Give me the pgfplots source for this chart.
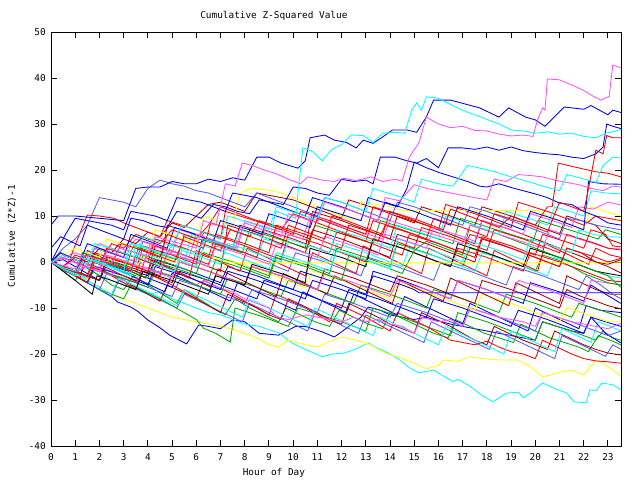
\documentclass[border=0pt]{standalone}
\usepackage{pgfplots}
\pgfplotsset{compat=1.18}
\usepackage{fontspec}
\setmainfont{DejaVu Sans Mono}
\definecolor{gpred}{RGB}{255,0,0}
\definecolor{gpgreen}{RGB}{0,170,0}
\definecolor{gpblue}{RGB}{0,0,235}
\definecolor{gplblue}{RGB}{90,90,255}
\definecolor{gpmag}{RGB}{255,80,255}
\definecolor{gpcyan}{RGB}{0,255,255}
\definecolor{gpdred}{RGB}{170,0,0}
\definecolor{gpyel}{RGB}{255,255,0}
\begin{document}
\begin{tikzpicture}
\useasboundingbox (-51bp,-34bp) rectangle (589bp,446bp);
\begin{axis}[
  at={(0,0)}, anchor=south west,
  scale only axis, width=570bp, height=414bp,
  xmin=0, xmax=23.54, ymin=-40, ymax=50,
  xtick={0,1,...,23}, ytick={-40,-30,...,50},
  tick align=inside, major tick length=6bp,
  axis line style={line width=1bp},
  every tick/.style={black, line width=1bp},
  font=\fontsize{9.4bp}{11bp}\selectfont,
  /pgf/number format/assume math mode=true,
  xticklabel style={inner sep=0pt, anchor=center, yshift=-11bp},
  yticklabel style={inner sep=0pt, anchor=east, xshift=-5bp},
  title={Cumulative Z-Squared Value},
  title style={at={(0.391,1)}, anchor=center, yshift=10bp, inner sep=0pt},
  xlabel={Hour of Day},
  xlabel style={at={(0.391,0)}, anchor=center, yshift=-27bp, inner sep=0pt},
  ylabel={Cumulative (Z*Z)-1},
  ylabel style={at={(-0.0684,0.507)}, anchor=center, inner sep=0pt},
  every axis plot/.append style={line width=0.85bp, no markers},
]
% L23 blue bottom-left
\addplot[gpblue] coordinates {(0,0)(0.5,-1.5)(1,-3)(1.5,-4.5)(2,-6)(2.5,-7.5)(2.75,-8.7)(3.3,-9.8)(3.6,-10.8)(4,-12.6)(4.5,-14.3)(4.9,-15.9)(5.3,-17)(5.6,-17.8)(6.1,-13.7)(6.5,-14)(7,-14.5)(7.5,-12.6)(8,-13)(8.6,-15.5)(9.4,-15.9)(10.1,-14)(10.5,-14)(11.2,-15.2)(11.7,-16.3)(12.1,-14.8)(12.8,-12)(13.1,-9.8)(13.6,-10.5)(14,-11.5)(14.5,-12)(15,-12.5)(15.5,-12)(16,-12.8)(16.5,-13.5)(17,-14)(17.5,-14.5)(18,-15)(18.5,-15.5)(19,-16)(19.5,-16.5)(20,-17)(20.3,-13)(20.9,-14)(21.5,-15)(22,-15.5)(22.3,-12)(22.9,-13)(23.54,-14)};
% L29 cyan bottom
\addplot[gpcyan] coordinates {(0,0)(0.5,-1.5)(1,-3)(1.3,-1)(1.9,-2.5)(2.5,-4)(3,-5)(3.5,-6)(4,-7)(4.5,-6.5)(5,-8)(5.5,-9)(6,-10)(6.5,-11)(7,-11.5)(7.5,-12.5)(8,-13.5)(8.6,-14)(9.4,-15.4)(9.95,-17.6)(10.5,-19)(11.2,-20.6)(11.6,-20)(12.1,-19.8)(12.55,-19)(13.1,-17.6)(13.4,-18.5)(14,-20)(14.4,-21.3)(14.8,-23)(15.2,-24.1)(15.5,-23.8)(15.8,-23.5)(16.2,-24.8)(16.6,-26)(16.8,-25.5)(17.3,-27)(17.8,-29)(18.25,-30.4)(18.8,-28.5)(19.3,-28.3)(19.5,-29.5)(19.8,-28.5)(20.3,-26.3)(20.8,-27.5)(21.3,-28.5)(21.6,-30.4)(22.1,-30.6)(22.25,-27.8)(22.5,-28)(22.75,-26.3)(23.2,-26.7)(23.54,-27.8)};
% L28 yellow bottom
\addplot[gpyel] coordinates {(0,0)(0.5,-1.5)(1,-3)(1.5,-4)(2,-5.5)(2.5,-7)(3,-8)(3.5,-9)(4,-10)(4.5,-11)(5,-12)(5.5,-12.5)(6,-13)(6.5,-13.5)(7,-14)(7.6,-14.8)(8.5,-16.5)(9,-18)(9.4,-18.5)(9.8,-17)(10.5,-18)(11,-18.5)(11.4,-17.5)(12,-16.3)(12.6,-17)(13.2,-18)(13.8,-19.8)(14.5,-21)(15,-22)(15.5,-23.2)(16,-22.5)(16.2,-21.3)(16.8,-21.6)(17.3,-20.6)(17.8,-21)(18.5,-21.3)(19.3,-21.3)(19.8,-22.8)(20.3,-25)(21,-24)(21.5,-23.5)(22,-24.6)(22.5,-21.3)(22.8,-22)(23.2,-23.5)(23.54,-24.8)};
% L52 lightblue lower
\addplot[gplblue] coordinates {(0,0)(0.5,-1.5)(1,-3)(1.5,-4.5)(2,-6)(2.5,-7.5)(2.8,-4)(3.4,-5.5)(4,-7)(4.6,-8.5)(5.2,-10)(5.5,-7)(6.1,-8.5)(6.7,-10)(7.3,-11.5)(7.9,-13)(8.2,-9)(8.8,-10.5)(9.4,-12)(10,-13.5)(10.6,-15)(10.9,-11)(11.5,-12.5)(12.1,-14)(12.7,-15.5)(13,-11.5)(13.6,-13)(14.2,-14.5)(14.8,-16)(15.4,-17.5)(15.7,-13)(16.3,-14.5)(16.9,-16)(17.5,-17.5)(18.1,-19)(18.4,-15)(19,-16.5)(19.6,-18)(20.2,-19.5)(20.8,-21)(21.1,-16)(21.7,-17.5)(22.3,-19)(22.9,-20.5)(23.2,-18)(23.54,-19)};
% L24 green
\addplot[gpgreen] coordinates {(0,0)(0.5,-1.5)(1,-3)(1.5,-4.5)(2,-6)(2.5,-7)(3,-8)(3.3,-5)(3.9,-6.5)(4.5,-8)(5,-9.5)(5.5,-11)(6,-12.5)(6.3,-14.4)(6.8,-15.5)(7.4,-17.4)(7.6,-10)(8.2,-11)(8.8,-12)(9.3,-13)(9.8,-14)(10.2,-10)(10.8,-11)(11.4,-12)(12,-13)(12.5,-14)(13,-15)(13.3,-10)(13.9,-11)(14.5,-12)(15,-13)(15.5,-14)(16,-15)(16.5,-16)(16.8,-11)(17.4,-12)(18,-13)(18.5,-14)(19,-15)(19.5,-16)(20,-17)(20.3,-13)(20.9,-14)(21.5,-15)(22,-16)(22.5,-17)(22.8,-15)(23.2,-16.5)(23.54,-17)};
% L45 green
\addplot[gpgreen] coordinates {(0,0)(0.5,-2)(1,-4)(1.4,-1)(2,-3)(2.5,-5)(3,-6)(3.4,-3)(4,-5)(4.6,-7)(5.2,-9)(5.5,-6)(6.1,-8)(6.7,-10)(7.2,-11.5)(7.6,-8)(8.2,-10)(8.8,-11.5)(9.4,-13)(9.7,-10)(10.3,-11.5)(10.9,-13)(11.5,-14)(11.9,-10.5)(12.5,-12)(13.1,-13.5)(13.7,-14.5)(14,-11)(14.6,-12.5)(15.2,-14)(15.8,-15.5)(16.4,-16.5)(16.7,-12.5)(17.3,-14)(17.9,-15.5)(18.5,-16.5)(19.1,-17.5)(19.4,-13.5)(20,-15)(20.6,-16.5)(21.2,-17.5)(21.8,-18.5)(22.2,-19.5)(22.6,-16)(23.1,-17)(23.54,-18)};
% L27 red
\addplot[gpred] coordinates {(0,0)(0.5,-1.5)(1,-3)(1.3,0)(1.9,-1.5)(2.5,-3)(3,-4.5)(3.5,-6)(3.8,-2)(4.4,-3.5)(5,-5)(5.5,-6.5)(6,-8)(6.3,-4)(6.9,-5.5)(7.5,-7)(8,-8.5)(8.5,-10)(9,-11.5)(9.3,-7)(9.9,-8.5)(10.5,-10)(11,-11.5)(11.5,-13)(11.8,-9)(12.4,-10.5)(13,-12)(13.5,-13.5)(14,-15)(14.3,-11)(14.9,-12.5)(15.5,-14)(16,-15.5)(16.5,-17)(17,-17.5)(17.5,-18)(18,-17.2)(18.5,-18.5)(19,-19.5)(19.5,-20)(20,-21)(20.3,-17)(20.9,-18.5)(21.5,-20)(22,-21)(22.5,-21.5)(23,-21.7)(23.54,-22)};
% L26 darkred
\addplot[gpdred] coordinates {(0,0)(0.5,-1.5)(1,-3)(1.5,-4.5)(1.8,-1)(2.4,-2.5)(3,-4)(3.5,-5.5)(4,-7)(4.5,-8.5)(4.8,-5)(5.4,-6.5)(6,-8)(6.5,-9.5)(7,-11)(7.3,-7)(7.9,-8.5)(8.5,-10)(9,-11.5)(9.5,-12.5)(9.8,-8)(10.4,-9.5)(11,-11)(11.5,-12.5)(12,-13.5)(12.3,-9)(12.9,-10.5)(13.5,-12)(14,-13.5)(14.5,-14.5)(15,-15.5)(15.3,-11)(15.9,-12.5)(16.5,-14)(17,-15.5)(17.5,-17)(18,-18)(18.3,-14)(18.9,-15.5)(19.5,-17)(20,-18)(20.5,-19)(20.8,-15)(21.4,-16.5)(22,-18)(22.5,-19)(23,-19.8)(23.54,-20.2)};
% L49 cyan
\addplot[gpcyan] coordinates {(0,0)(0.5,-1)(1,-2.5)(1.5,-4)(2,-5.5)(2.5,-7)(2.8,-3.5)(3.4,-5)(4,-6.5)(4.6,-8)(5.2,-9.5)(5.5,-6)(6.1,-7.5)(6.7,-9)(7.3,-10.5)(7.9,-12)(8.2,-8)(8.8,-9.5)(9.4,-11)(10,-12.5)(10.6,-14)(10.9,-10)(11.5,-11.5)(12.1,-13)(12.7,-14.5)(13.3,-16)(13.6,-12)(14.2,-13.5)(14.8,-15)(15.4,-16.5)(16,-18)(16.3,-14)(16.9,-15.5)(17.5,-17)(18.1,-18.5)(18.7,-20)(19,-15)(19.6,-16.5)(20.2,-18)(20.8,-19.5)(21.1,-14.5)(21.7,-16)(22.3,-17.5)(22.6,-13)(23.1,-14)(23.54,-15)};
% L25 blue
\addplot[gpblue] coordinates {(0,0)(0.5,-1)(1,-2)(1.5,-3)(2,-4)(2.3,-0.5)(2.9,-1.5)(3.5,-2.5)(4,-3.5)(4.5,-4.5)(5,-5.5)(5.3,-2)(5.9,-3)(6.5,-4)(7,-5)(7.5,-6)(8,-7)(8.5,-8)(8.8,-4)(9.4,-5)(10,-6)(10.5,-7)(11,-8)(11.5,-9)(12,-10)(12.3,-6)(12.9,-7)(13.5,-8)(14,-9)(14.5,-10)(15,-11)(15.5,-12)(15.8,-8)(16.4,-9)(17,-10)(17.5,-11)(18,-12)(18.5,-13)(19,-14)(19.3,-10.5)(19.9,-11.5)(20.5,-12.5)(21,-13.5)(21.5,-14.5)(22,-15.5)(22.3,-12)(22.9,-15.5)(23.54,-17.6)};
% L47 blue
\addplot[gpblue] coordinates {(0,0)(0.5,0.5)(1,-1)(1.5,-2.5)(2,-4)(2.3,-0.5)(2.9,-2)(3.5,-3.5)(4.1,-5)(4.7,-6.5)(5,-2.5)(5.6,-4)(6.2,-5.5)(6.8,-7)(7.4,-8.5)(7.7,-4.5)(8.3,-6)(8.9,-7.5)(9.5,-9)(10.1,-10.5)(10.4,-6.5)(11,-8)(11.6,-9.5)(12.2,-11)(12.5,-7)(13.1,-8.5)(13.7,-10)(14.3,-11.5)(14.6,-7.5)(15.2,-9)(15.8,-10.5)(16.4,-12)(17,-13.5)(17.3,-9)(17.9,-10.5)(18.5,-12)(19.1,-13.5)(19.7,-15)(20,-10)(20.6,-11.5)(21.2,-13)(21.8,-14.5)(22.1,-9.5)(22.7,-10.5)(23.54,-11)};
% L41 lightblue
\addplot[gplblue] coordinates {(0,0)(0.5,-1.5)(1,-3)(1.5,-4.5)(2,-6)(2.3,-2.5)(2.9,-3.5)(3.5,-4.5)(4,-5.5)(4.5,-6.5)(5,-7.5)(5.3,-4)(5.9,-5)(6.5,-6)(7,-7)(7.5,-8)(8,-9)(8.3,-6)(8.9,-7)(9.5,-8)(10,-9)(10.5,-10)(11,-11)(11.3,-7)(11.9,-8)(12.5,-9)(13,-10)(13.5,-11)(14,-12)(14.3,-9)(14.9,-10)(15.5,-11)(16,-12)(16.5,-13)(17,-14)(17.3,-10)(17.9,-11)(18.5,-12)(19,-13)(19.5,-14)(20,-15)(20.3,-11)(20.9,-12)(21.5,-13)(22,-14)(22.5,-15)(23,-16)(23.54,-15)};
% L22 magenta
\addplot[gpmag] coordinates {(0,0)(0.5,-1.5)(1,-3)(1.3,0)(1.9,-1)(2.5,-2)(3,-3)(3.5,-4)(3.8,-1)(4.4,-2)(5,-3)(5.5,-4)(6,-5)(6.3,-4)(6.9,-5.5)(7.5,-6.5)(8,-8)(8.5,-9)(9,-10)(9.3,-12)(9.8,-12.5)(10.5,-11.5)(11,-12)(12,-13)(12.5,-12)(13,-13)(13.5,-12.5)(14,-13.5)(14.5,-14)(15,-15.5)(15.3,-12)(16,-13)(16.5,-12.5)(17,-14)(17.3,-10)(17.9,-11)(18.5,-12)(19,-12.5)(19.5,-13)(20,-14)(20.3,-11)(20.9,-12)(21.5,-13)(22,-13.5)(22.5,-14)(23,-14.5)(23.54,-13.3)};
% L31 green
\addplot[gpgreen] coordinates {(0,0)(0.5,-1.5)(1,-3)(1.5,-4.5)(1.8,-1.5)(2.4,-2.5)(3,-3.5)(3.5,-4.5)(4,-5.5)(4.3,-2)(4.9,-3)(5.5,-4)(6,-5)(6.5,-6)(7,-7)(7.3,-3.5)(7.9,-4.5)(8.5,-5.5)(9,-6.5)(9.5,-7.5)(9.8,-4)(10.4,-5)(11,-6)(11.5,-7)(12,-8)(12.5,-9)(12.8,-5)(13.4,-6)(14,-7)(14.5,-8)(15,-9)(15.5,-10)(15.8,-6)(16.4,-7)(17,-8)(17.5,-9)(18,-10)(18.5,-11)(18.8,-7)(19.4,-8)(20,-9)(20.5,-10)(21,-11)(21.5,-12)(21.8,-9)(22.4,-10)(23,-11)(23.54,-12)};
% L35 yellow mid
\addplot[gpyel] coordinates {(0,0)(0.5,1)(1,0)(1.5,-1)(2,-2)(2.3,1.5)(2.9,0.5)(3.5,-0.5)(4,-1.5)(4.5,-2.5)(4.8,1)(5.4,0)(6,-1)(6.5,-2)(7,-3)(7.3,0.5)(7.9,-0.5)(8.5,-1.5)(9,-2.5)(9.5,-3.5)(10,-4.5)(10.5,-5.5)(10.8,-2)(11.4,-3)(12,-4)(12.5,-5)(13,-6)(13.5,-7)(14,-8)(14.3,-4.5)(14.9,-5.5)(15.5,-6.5)(16,-7.5)(16.5,-8.5)(17,-9.5)(17.5,-10.5)(17.8,-7)(18.4,-8)(19,-9)(19.5,-10)(20,-11)(20.5,-12)(21,-13)(21.3,-10)(21.9,-11)(22.5,-12)(23,-13)(23.54,-13)};
% L21 darkred
\addplot[gpdred] coordinates {(0,0)(0.5,-1)(1,-2)(1.5,-3)(2,-4)(2.3,0.5)(2.9,-0.5)(3.5,-1.5)(4,-2.5)(4.5,-3.5)(5,-4.5)(5.3,0)(5.9,-1)(6.5,-2)(7,-3)(7.5,-4)(8,-5)(8.3,-1)(8.9,-2)(9.5,-3)(10,-4)(10.5,-5)(11,-6)(11.3,-1.5)(11.9,-2.5)(12.5,-3.5)(13,-4.5)(13.5,-5.5)(14,-6.5)(14.3,-3)(14.9,-4)(15.5,-5)(16,-6)(16.5,-7)(17,-8)(17.5,-9)(17.8,-4)(18.4,-5)(19,-6)(19.5,-7)(20,-8)(20.5,-9)(21,-10)(21.3,-6)(21.9,-7.5)(22.5,-8.5)(23,-9.5)(23.54,-10.2)};
% L46 darkred
\addplot[gpdred] coordinates {(0,0)(0.6,-2)(1.2,-3.5)(1.5,2.5)(2.1,1)(2.7,-0.5)(3.3,-2)(3.9,-3.5)(4.2,0.5)(4.8,-1)(5.4,-2.5)(6,-4)(6.6,-5.5)(6.9,-1.5)(7.5,-3)(8.1,-4.5)(8.7,-6)(9.3,-7.5)(9.6,-2.5)(10.2,-4)(10.8,-5.5)(11.4,-7)(11.7,-3)(12.3,-4.5)(12.9,-6)(13.5,-7.5)(14.1,-9)(14.4,-4)(15,-5.5)(15.6,-7)(16.2,-8.5)(16.5,-3.5)(17.1,-5)(17.7,-6.5)(18.3,-8)(18.9,-9.5)(19.2,-4.5)(19.8,-6)(20.4,-7.5)(21,-9)(21.3,-3)(21.9,-4.5)(22.5,-6)(23.1,-7)(23.54,-7)};
% L20 blue
\addplot[gpblue] coordinates {(0,0)(0.5,-1.5)(1,-3)(1.5,-4.5)(1.8,-1)(2.4,-2)(3,-3)(3.5,-4)(4,-5)(4.3,-1)(4.9,-2)(5.5,-3)(6,-4)(6.5,-5)(7,-6)(7.3,-2)(7.9,-3)(8.5,-4)(9,-5)(9.5,-6)(10,-7)(10.5,-8)(10.8,-4)(11.4,-5)(12,-6)(12.5,-7)(13,-8)(13.3,-2)(13.9,-3)(14.5,-4)(15,-5)(15.5,-6)(16,-7)(16.5,-8)(16.8,-4)(17.4,-5)(18,-6)(18.5,-7)(19,-8)(19.5,-9)(19.8,-4.5)(20.4,-5.5)(21,-6.5)(21.5,-7.5)(22,-8.5)(22.3,-5)(22.9,-7)(23.54,-9)};
% L33 lightblue
\addplot[gplblue] coordinates {(0,0)(0.5,1)(1,0)(1.5,-1)(1.8,3)(2.4,2)(3,1)(3.5,0)(3.8,4.5)(4.4,3.5)(5,2.5)(5.5,1.5)(6,0.5)(6.3,5)(6.9,4)(7.5,3)(8,2)(8.5,1)(9,0)(9.3,-1)(9.8,-2)(10.1,2)(10.7,1)(11.3,0)(11.8,-1)(12.3,-2)(12.8,-3)(13.1,1)(13.7,0)(14.3,-1)(14.8,-2)(15.3,-3)(15.8,-4)(16.1,0)(16.7,-1)(17.3,-2)(17.8,-3)(18.3,-4)(18.8,-5)(19.1,-1)(19.7,-2)(20.3,-3)(20.8,-4)(21.3,-5)(21.8,-6)(22.1,-3)(22.7,-5)(23.2,-7)(23.54,-8)};
% L19 blue flat
\addplot[gpblue] coordinates {(0,0)(0.5,-1)(1,-2)(1.5,-3)(1.8,1)(2.4,0)(3,-1)(3.5,-2)(4,-3)(4.3,0.5)(4.9,-0.5)(5.5,-1.5)(6,-2.5)(6.5,-3.5)(7,-4.5)(7.3,-1)(7.9,-2)(8.5,-3)(9,-4)(9.5,-5)(10,-6)(10.3,-2)(10.9,-3)(11.5,-4)(12,-5)(12.5,-6)(13,-7)(13.3,-3)(13.9,-4)(14.5,-5)(15,-6)(15.2,-6.7)(23.54,-6.7)};
% L43 magenta
\addplot[gpmag] coordinates {(0,0)(0.5,-1)(1,-2)(1.5,-1)(2,-2)(2.5,-3)(2.8,0.5)(3.4,-0.5)(4,-1.5)(4.5,-2.5)(5,-3.5)(5.3,0)(5.9,-1)(6.5,-2)(7,-3)(7.5,-4)(8,-5)(8.3,-1)(8.9,-2)(9.5,-3)(10,-4)(10.5,-5)(11,-6)(11.3,-2.5)(11.9,-3.5)(12.5,-4.5)(13,-5.5)(13.5,-6.5)(14,-7.5)(14.3,-4)(14.9,-5)(15.5,-6)(16,-7)(16.5,-8)(16.8,-4)(17.4,-5)(18,-6)(18.5,-7)(19,-8)(19.3,-4)(19.9,-5)(20.5,-6)(21,-7)(21.5,-8)(22,-9)(22.3,-4)(22.9,-4.5)(23.54,-5)};
% L30 green
\addplot[gpgreen] coordinates {(0,0)(0.5,-1.2)(1,-2.4)(1.3,1)(1.9,0)(2.5,-1)(3,-2)(3.5,-3)(3.8,1.5)(4.4,0.5)(5,-0.5)(5.5,-1.5)(6,-2.5)(6.3,2)(6.9,1)(7.5,0)(8,-1)(8.5,-2)(9,-3)(9.3,1.5)(9.9,0.5)(10.5,-0.5)(11,-1.5)(11.5,-2.5)(11.8,3)(12.4,2)(13,1)(13.5,0)(14,-1)(14.3,4)(14.9,3)(15.5,2)(16,1)(16.5,0)(17,-1)(17.3,3)(17.9,2)(18.5,1)(19,0)(19.5,-1)(20,-2)(20.3,1.5)(20.9,0.5)(21.5,-1)(22,-2.5)(22.5,-3.5)(23,-4.5)(23.54,-5)};
% L18 red
\addplot[gpred] coordinates {(0,0)(0.5,-1.2)(1,-2.4)(1.3,2)(1.9,1)(2.5,0)(3,-1)(3.5,-2)(3.8,3.5)(4.4,2.5)(5,1.5)(5.5,0.5)(6,-0.5)(6.3,6.5)(6.9,5.5)(7.5,4.5)(8,3.5)(8.5,2.5)(9,1.5)(9.5,0.5)(9.8,6)(10.4,5)(11,4)(11.5,3)(12,2)(12.5,1)(13,0)(13.3,5)(13.9,4)(14.5,3)(15,2)(15.5,1)(16,0)(16.5,-1)(16.8,3)(17.4,2)(18,1)(18.5,0)(19,-1)(19.5,-2)(19.8,2)(20.4,1)(21,0)(21.5,-1)(22,-2)(22.5,-3)(23,-4)(23.54,-4.3)};
% L48 red
\addplot[gpred] coordinates {(0,0)(0.5,-1.5)(1,-3)(1.5,-4.5)(1.8,0)(2.4,-1.5)(3,-3)(3.6,-4.5)(3.9,1)(4.5,-0.5)(5.1,-2)(5.7,-3.5)(6,2.5)(6.6,1)(7.2,-0.5)(7.8,-2)(8.1,3)(8.7,1.5)(9.3,0)(9.9,-1.5)(10.5,-3)(10.8,2)(11.4,0.5)(12,-1)(12.6,-2.5)(12.9,3.5)(13.5,2)(14.1,0.5)(14.7,-1)(15.3,-2.5)(15.6,3)(16.2,1.5)(16.8,0)(17.4,-1.5)(18,-3)(18.3,2.5)(18.9,1)(19.5,-0.5)(20.1,-2)(20.4,4)(21,2.5)(21.6,1)(22.2,-0.5)(22.5,3)(23.1,1.5)(23.54,1)};
% L37 cyan
\addplot[gpcyan] coordinates {(0,0)(0.5,-1)(1,-2)(1.3,2)(1.9,1)(2.5,0)(3,-1)(3.3,4)(3.9,3)(4.5,2)(5,1)(5.5,0)(5.8,6)(6.4,5)(7,4)(7.5,3)(8,2)(8.5,1)(8.8,5)(9.4,4)(10,3)(10.5,2)(11,1)(11.5,0)(11.8,4)(12.4,3)(13,2)(13.5,1)(14,0)(14.5,-1)(14.8,3)(15.4,2)(16,1)(16.5,0)(17,-1)(17.5,-2)(17.8,2)(18.4,1)(19,0)(19.5,-1)(20,-2)(20.5,-3)(20.8,1)(21.4,0)(22,-1)(22.5,-2)(23,-3)(23.54,-3.5)};
% L32 black
\addplot[black] coordinates {(0,0)(0.5,-2)(1,-4)(1.7,-7)(1.9,-3)(2.5,-4)(3,-5)(3.5,-6)(3.8,-2)(4.4,-3)(5,-4)(5.5,-5)(6,-6)(6.5,-7)(6.8,-3)(7.4,-4)(8,-5)(8.3,-0.5)(8.9,-1.5)(9.5,-2.5)(10,-3.5)(10.5,-4.5)(10.7,3)(11.3,2)(12,1)(12.5,0)(13,-1)(13.3,5)(13.9,4)(14.5,3)(15,2)(15.5,1)(16,0)(16.5,-1)(16.8,4)(17.4,3)(18,2)(18.5,1)(19,0)(19.5,-1)(19.8,3)(20.4,2)(21,1)(21.5,0)(22,-1)(22.5,-2)(23,-2.5)(23.54,-3)};
% L17 darkred
\addplot[gpdred] coordinates {(0,0)(0.5,-1)(1,-2)(1.5,-3)(2,-4)(2.3,1)(2.9,0)(3.5,-1)(4,-2)(4.5,-3)(4.8,2)(5.4,1)(6,0)(6.5,-1)(7,-2)(7.3,8)(7.9,7)(8.5,6)(9,5)(9.5,4)(10,3)(10.5,2)(10.8,7)(11.4,6)(12,5)(12.5,4)(13,3)(13.5,2)(14,1)(14.3,6)(14.9,5)(15.5,4)(16,3)(16.5,2)(17,1)(17.5,0)(17.8,5)(18.4,4)(19,3)(19.5,2)(20,1)(20.5,0)(21,-1)(21.3,3)(21.9,2)(22.5,0)(23,-1)(23.54,-2.4)};
% L40 green
\addplot[gpgreen] coordinates {(0,0)(0.5,-1)(1,-2)(1.5,-3)(1.8,0.5)(2.4,-0.5)(3,-1.5)(3.5,-2.5)(4,-3.5)(4.3,0)(4.9,-1)(5.5,-2)(6,-3)(6.5,-4)(6.8,0.5)(7.4,-0.5)(8,-1.5)(8.5,-2.5)(9,-3.5)(9.3,1)(9.9,0)(10.5,-1)(11,-2)(11.5,-3)(12,-4)(12.3,1.5)(12.9,0.5)(13.5,-0.5)(14,-1.5)(14.5,-2.5)(15,2.5)(15.5,4.5)(16,3.5)(16.5,2.5)(17,1.5)(17.3,8)(17.9,7)(18.5,6)(19,5)(19.5,4)(20,3)(20.5,2)(21,1)(21.5,0)(22,-1)(22.5,-2)(23,-3)(23.54,-5.5)};
% L16 yellow flat
\addplot[gpyel] coordinates {(0,0)(0.5,-1)(1,0.5)(1.5,-0.5)(2,-1.5)(2.5,1)(3,0)(3.5,-1)(4,2)(4.5,1)(5,0)(5.5,3)(6,2)(6.5,1)(7,0.5)(7.6,-0.2)(23.54,-0.2)};
% L34 darkred
\addplot[gpdred] coordinates {(0,0)(0.5,1.5)(1,0.5)(1.5,-0.5)(2,-1.5)(2.3,3)(2.9,2)(3.5,1)(4,0)(4.5,-1)(4.8,8)(5.4,7)(6,6)(6.5,5)(7,4)(7.5,3)(7.8,8)(8.4,7)(9,6)(9.5,5)(10,4)(10.5,3)(10.8,11)(11.4,10)(12,9)(12.5,8)(13,7)(13.5,6)(14,5)(14.3,10)(14.9,9)(15.5,8)(16,7)(16.5,6)(17,5)(17.5,4)(17.8,9)(18.4,8)(19,7)(19.5,6)(20,5)(20.5,4)(21,3)(21.5,2)(22,1)(22.5,0)(23,-0.5)(23.54,0.5)};
% L50 green upper
\addplot[gpgreen] coordinates {(0,0)(0.5,-1)(1,-2)(1.3,2)(1.9,1)(2.5,0)(3.1,-1)(3.4,3.5)(4,2.5)(4.6,1.5)(5.2,0.5)(5.5,6)(6.1,5)(6.7,4)(7.3,3)(7.9,2)(8.2,7)(8.8,6)(9.4,5)(10,4)(10.6,3)(10.9,8)(11.5,7)(12.1,6)(12.7,5)(13.3,4)(13.6,9)(14.2,8)(14.8,7)(15.4,6)(16,5)(16.6,4)(16.9,9.5)(17.5,8.5)(18.1,7.5)(18.7,6.5)(19.3,5.5)(19.9,4.5)(20.2,9)(20.8,8)(21.4,7)(22,6)(22.6,5)(22.9,7)(23.54,6)};
% L42 red
\addplot[gpred] coordinates {(0,0)(0.5,-1)(1,1.5)(1.5,0.5)(2,-0.5)(2.5,4)(3,3)(3.5,6)(4,5)(4.5,4)(5,7)(5.5,6)(6,5)(6.5,8)(7,12)(7.5,11)(8,10)(8.5,9)(9,8)(9.5,7)(10,10.5)(10.5,9.5)(11,8.5)(11.5,7.5)(12,6.5)(12.5,5.5)(13,4.5)(13.3,9)(13.9,8)(14.5,7)(15,6)(15.5,5)(16,4)(16.5,3)(17,2)(17.3,6)(17.9,5)(18.5,4)(19,3)(19.5,2)(20,1)(20.5,0)(21,-1)(21.3,3)(21.9,2)(22.5,1)(23,0)(23.54,0.8)};
% L51 magenta
\addplot[gpmag] coordinates {(0,0)(0.5,1)(1,2)(1.5,1)(2,4)(2.5,3)(3,2)(3.5,5)(4,4)(4.5,3)(5,2)(5.3,7)(5.9,6)(6.5,5)(7.1,4)(7.7,3)(8,9)(8.6,8)(9.2,7)(9.8,6)(10.4,5)(10.7,10)(11.3,9)(11.9,8)(12.5,7)(13.1,6)(13.7,5)(14,9)(14.6,8)(15.2,7)(15.8,6)(16.4,5)(17,4)(17.3,8)(17.9,7)(18.5,6)(19.1,5)(19.7,4)(20.3,3)(20.6,7)(21.2,6)(21.8,5)(22.4,4)(23,3)(23.54,3)};
% L15 red
\addplot[gpred] coordinates {(0,0)(0.5,1.5)(1,0.5)(1.5,-0.5)(2,-1.5)(2.3,3)(2.9,2)(3.5,1)(4,0)(4.3,5)(4.9,4)(5.5,3)(6,2)(6.5,1)(6.8,6)(7.4,5)(8,4)(8.5,3)(9,2)(9.3,8)(9.9,7)(10.5,6)(11,5)(11.5,4)(12,3)(12.3,8)(12.9,7)(13.5,6)(14,5)(14.5,4)(15,3)(15.3,7.5)(15.9,6.5)(16.5,5.5)(17,4.5)(17.5,3.5)(18,2.5)(18.3,7)(18.9,6)(19.5,5)(20,4)(20.5,3)(21,2)(21.3,6)(21.9,5)(22.5,4)(23,3)(23.54,2.6)};
% L14 red
\addplot[gpred] coordinates {(0,0)(0.5,-1)(1,-2)(1.5,-3)(1.8,2)(2.4,1)(3,0)(3.5,-1)(4,-2)(4.3,3.5)(4.9,2.5)(5.5,1.5)(6,0.5)(6.5,-0.5)(6.8,4)(7.4,3)(8,2)(8.5,1)(8.8,7)(9.4,6)(10,5)(10.5,4)(11,3)(11.5,2)(11.8,6.5)(12.4,5.5)(13,4.5)(13.5,3.5)(14,2.5)(14.5,1.5)(14.8,6)(15.4,5)(16,4)(16.5,3)(17,2)(17.5,1)(17.8,5.5)(18.4,4.5)(19,3.5)(19.5,2.5)(20,1.5)(20.3,6)(20.9,5)(21.5,4)(22,3)(22.3,7)(22.9,6)(23.2,3.5)(23.54,3.3)};
% L13 cyan
\addplot[gpcyan] coordinates {(0,0)(0.5,-1.5)(1,-3)(1.3,1)(1.8,0)(2.3,-1)(2.8,-2)(3.3,-3)(3.5,4)(4,3)(4.5,2)(5,1)(5.5,0)(6,-1)(6.3,3.5)(6.9,2.5)(7.5,1.5)(8,0.5)(8.5,-0.5)(9,-1.5)(9.3,2)(9.9,1)(10.5,0)(11,-1)(11.5,-2)(11.8,2.5)(12.4,1.5)(13,0.5)(13.5,-0.5)(14,-1.5)(14.3,5)(14.9,4)(15.5,3)(16,2)(16.5,1)(17,0)(17.3,4.5)(17.9,3.5)(18.5,2.5)(19,1.5)(19.5,0.5)(19.8,5)(20.4,4)(21,3)(21.5,2)(21.8,7)(22.4,6)(23,5.5)(23.54,5.4)};
% L39 darkred upper
\addplot[gpdred] coordinates {(0,0)(0.5,-1)(1,1)(1.5,0)(2,3)(2.5,2)(3,5)(3.5,4)(4,6.5)(4.5,5.5)(5,8.5)(5.5,7.5)(6,10)(6.5,12.5)(7,13)(7.5,12)(8,11)(8.5,15)(9,14.5)(9.5,14)(10,13.5)(10.5,12.5)(11,11.5)(11.5,10.5)(12,9.5)(12.3,13.5)(12.9,12.5)(13.5,11.5)(14,10.5)(14.5,9.5)(15,8.5)(15.3,12)(15.9,11)(16.5,10)(17,9)(17.5,8)(17.8,12)(18.4,11)(19,10)(19.5,9)(20,8)(20.5,7)(21,6)(21.3,10)(21.9,9)(22.5,8)(23,5)(23.54,4)};
% L38 red upper-mid
\addplot[gpred] coordinates {(0,0)(0.4,2)(0.8,1)(1.1,5)(1.5,10.2)(2,10)(2.6,9.5)(3,8.5)(3.5,7.5)(4,6.5)(4.5,5.5)(4.8,9)(5.4,8)(6,7)(6.5,6)(7,5)(7.2,11)(7.8,10)(8.4,9)(9,8)(9.5,7)(10,6)(10.3,11)(10.9,10)(11.5,9)(12,8)(12.5,7)(13,6)(13.3,12)(13.9,11)(14.5,10)(15,9)(15.5,8)(16,7)(16.3,12.5)(16.9,11.5)(17.5,10.5)(18,9.5)(18.5,8.5)(19,7.5)(19.3,13)(19.9,12)(20.5,11)(21,10)(21.5,9)(22,8)(22.5,10)(23,9.5)(23.54,9)};
% L36 yellow upper
\addplot[gpyel] coordinates {(0,0)(0.5,1.5)(1,3)(1.5,2)(2,1)(2.3,5)(2.9,4)(3.5,3)(4,2)(4.3,7)(4.9,6)(5.5,5)(6,4)(6.3,10)(6.9,9)(7.5,8)(7.8,15)(8.3,16)(9,15.6)(9.5,15)(10,14)(10.5,13)(11,12)(11.5,11)(12,10)(12.5,9)(12.8,13)(13.4,12.5)(14,12)(14.5,11.2)(20.1,11.2)(20.5,10)(21,9)(21.5,8)(22,7)(22.3,12)(22.9,11)(23.54,10)};
% L10 magenta
\addplot[gpmag] coordinates {(0,0)(0.5,0.8)(1,-0.2)(1.5,-1.2)(2,-2.2)(2.3,1.5)(2.9,0.5)(3.4,-0.5)(4,-1.5)(4.5,-2.5)(4.8,2)(5.4,1)(6,0)(6.5,-1)(6.8,3.5)(7.4,2.5)(8,1.5)(8.5,0.5)(9,-0.5)(9.3,4)(9.9,3)(10.5,2)(11,1)(11.3,5.5)(11.9,4.5)(12.5,3.5)(13,2.5)(13.5,1.5)(13.8,6)(14.4,5)(15,4)(15.5,3)(15.8,7.5)(16.4,6.5)(17,5.5)(17.5,4.5)(17.8,9)(18.4,8)(19,7)(19.5,6)(19.8,10.5)(20.4,9.5)(21,8.5)(21.5,7.5)(21.8,12)(22.4,11.5)(23,13)(23.54,12.4)};
% L9 cyan
\addplot[gpcyan] coordinates {(0,0)(0.5,-1.5)(1,-2.5)(1.5,-3.5)(1.7,0.5)(2.2,-0.5)(2.7,-1.5)(3.2,-2.5)(3.6,1)(4.1,0)(4.6,-1)(5.1,-2)(5.4,2.5)(6,1.5)(6.5,0.5)(7,-0.5)(7.3,4)(7.9,3)(8.4,2)(9,1)(9.5,0)(9.8,5)(10.4,4)(11,3)(11.5,2)(11.8,7)(12.4,6)(13,5)(13.5,4)(14,3)(14.3,8)(14.9,7)(15.5,6)(16,5)(16.3,10)(16.9,9)(17.5,8)(18,7)(18.5,6)(18.8,11)(19.4,10)(20,9)(20.5,8)(20.8,12)(21.4,11)(22,10)(22.3,15.5)(22.9,15)(23.54,14.8)};
% L12 lightblue
\addplot[gplblue] coordinates {(0,0)(0.5,3)(1,5)(1.5,8)(2,14)(2.5,13.5)(3,13)(3.5,12)(4,16)(4.5,17.8)(5,17)(5.5,16.5)(6,15.5)(6.5,15)(7,14)(7.5,13)(8,12)(8.5,15)(9,14)(9.5,13)(10,12)(10.5,11)(11,10)(11.3,14)(12,13)(12.5,12)(13,11)(13.5,10)(14,9)(14.3,13)(15,12)(15.5,11)(16,10)(16.5,9)(17,8)(17.3,12)(18,11)(18.5,10)(19,9)(19.5,8)(20,7)(20.5,6)(21,5)(21.3,9.5)(21.9,9)(22.5,8)(23,7.5)(23.54,7)};
% L44 blue
\addplot[gpblue] coordinates {(0,0)(0.3,3)(0.6,6)(1,9.5)(1.5,9)(2,8.5)(2.5,8)(3,7)(3.3,11)(3.8,10.5)(4.3,10)(4.8,9)(5.2,14)(5.7,13.5)(6.2,13)(6.7,12)(7.2,11)(7.5,15)(8,14.5)(8.5,14)(9,13)(9.5,12)(10,11)(10.5,10)(10.8,14)(11.4,13)(12,12)(12.5,11)(13,10)(13.5,9)(13.8,13)(14.4,12)(15,11)(15.5,10)(16,9)(16.5,8)(16.8,12)(17.4,11)(18,10)(18.5,9)(19,8)(19.5,7)(19.8,11)(20.4,10)(21,9)(21.5,8)(22,7)(22.2,17.5)(22.8,17)(23.54,16.9)};
% L11 blue E
\addplot[gpblue] coordinates {(0,0)(0.4,2)(0.8,1)(1.2,0)(1.5,4)(2,3)(2.5,2)(3,1)(3.3,6)(3.8,5)(4.3,4)(4.8,3)(5.1,7.5)(5.7,6.5)(6.2,5.5)(6.7,4.5)(7,9)(7.6,8)(8.2,7)(8.7,6)(9,10.5)(9.6,9.5)(10.2,8.5)(10.7,7.5)(11,12)(11.6,11)(12.2,10)(12.8,9)(13.1,14)(13.7,13)(14.3,12)(14.7,16)(15,21.7)(15.5,20.5)(16,19.5)(16.6,18.5)(17.2,17.5)(17.7,16.5)(18,16.3)(18.5,17)(19,16.2)(19.5,15.5)(20,14.8)(20.5,14)(21,12.8)(21.5,12.5)(22,11)(22.5,10)(23,8.5)(23.54,8)};
% L8 magenta H
\addplot[gpmag] coordinates {(0,0)(0.5,-1)(1,0.5)(1.5,-0.5)(2,-1.5)(2.3,2.5)(2.8,1.5)(3.3,0.5)(3.8,-0.5)(4.1,4)(4.7,3)(5.2,2)(5.7,1)(6,6)(6.6,5)(7.1,4)(7.6,3)(8,8.5)(8.5,7.5)(9,6.5)(9.5,5.5)(9.8,10.5)(10.4,9.5)(11,8.5)(11.3,13)(11.9,12)(12.5,11)(13,10)(13.5,9)(13.8,14)(14.4,13.3)(15,16.8)(15.5,16)(16,15.5)(16.5,15)(17,14.5)(17.5,14)(18,13.5)(18.3,18)(18.8,17.5)(19.3,19)(19.8,18.8)(20.3,18.5)(20.8,17.8)(21.3,17.3)(21.8,16.8)(22.3,16)(22.8,15.5)(23.2,16.5)(23.54,16.3)};
% L7 red F2
\addplot[gpred] coordinates {(0,0)(0.5,-1.2)(1,-2.2)(1.5,-3.2)(1.8,1)(2.3,0)(2.8,-1)(3.3,-2)(3.6,3)(4.1,2)(4.6,1)(5.1,0)(5.5,5.5)(6,4.5)(6.5,3.5)(7,2.5)(7.4,7)(8,6)(8.5,5)(9,4)(9.5,3)(9.8,8)(10.3,7)(10.8,6)(11.3,5)(11.6,10)(12.2,9)(12.7,8)(13.2,7)(13.7,6)(14,11)(14.6,10)(15.2,9)(15.7,8)(16.2,7)(16.5,11.5)(17,10.5)(17.5,9.5)(18,8.5)(18.5,7.5)(19,10)(19.5,9)(20,8)(20.5,12)(20.7,12)(20.95,21.5)(21.5,20.8)(22,20.2)(22.5,19.6)(23,19.3)(23.54,18.5)};
% L6 cyan G
\addplot[gpcyan] coordinates {(0,0)(0.5,1.5)(1,0.5)(1.5,-0.5)(1.8,4)(2.4,3)(3,2)(3.5,1)(3.8,5.5)(4.4,4.5)(5,3.5)(5.4,8)(6,7)(6.5,6)(7,5)(7.3,10)(7.9,9)(8.5,8)(9,7)(9.3,12)(9.9,11)(10.5,10)(11,9)(11.3,14)(12,13)(12.5,12)(13,11)(13.3,16)(13.9,15)(14.5,14)(15,13)(15.3,18)(16,17)(16.6,16.5)(17.2,21)(17.8,20.3)(18.4,19.5)(19,18.5)(19.5,17.8)(20,17)(20.5,16.2)(21,15.5)(21.3,19)(21.9,18.2)(22.5,17.3)(22.8,21)(23.2,22.8)(23.54,22.6)};
% L5 red F1
\addplot[gpred] coordinates {(0,0)(0.5,-1)(1,-2)(1.4,1.5)(2,0.5)(2.5,-0.5)(2.9,4)(3.5,3)(4,2)(4.5,1)(4.8,6)(5.3,5)(5.8,4)(6.3,3)(6.6,8.5)(7.2,7.5)(7.7,6.5)(8.2,5.5)(8.6,9)(9.2,8)(9.7,7)(10.2,6)(10.7,5)(11,9.5)(11.5,8.5)(12,7.5)(12.5,6.5)(13,5.5)(13.5,4.5)(13.8,8)(14.4,7)(15,6)(15.5,5)(15.8,9.5)(16.4,8.5)(17,7.5)(17.5,6.5)(18,5.5)(18.3,10.5)(18.9,9.5)(19.5,8.5)(20,7.5)(20.5,6.5)(21,13)(21.5,12)(22,11)(22.2,16)(22.5,24.3)(22.8,23.5)(22.95,27.5)(23.2,27)(23.54,27)};
% L4 blue D
\addplot[gpblue] coordinates {(0,3)(0.4,5.5)(0.8,4.5)(1.2,3.5)(1.5,8)(2,7)(2.5,6)(3,5)(3.3,9.5)(3.8,9)(4.3,8)(4.8,7.5)(5.2,11)(5.7,10.5)(6.2,9.5)(6.7,12.5)(7.2,12)(7.7,11)(8.2,10.5)(8.6,13.5)(9.1,13)(9.6,12.5)(10,16.3)(10.5,16)(11,15)(11.5,14.5)(12,18)(12.5,17.5)(13,17.8)(13.3,17)(13.6,22.8)(14.2,22.8)(14.7,22)(15.1,21.5)(15.5,22.5)(16,20.5)(16.4,24.8)(17,24.8)(17.5,24.5)(18,25)(18.5,24.3)(19,25)(19.5,24.2)(20,23.8)(20.5,23.5)(21,23.3)(21.5,22.8)(22,22.5)(22.5,23.5)(22.8,25)(22.95,30)(23.2,29.5)(23.54,29)};
% L3 blue C
\addplot[gpblue] coordinates {(0,8)(0.3,10)(1,10)(2,9.5)(3,9)(3.5,16)(4,16.3)(4.5,16.3)(5,17.5)(5.5,17)(6,17)(6.5,18)(7,17.5)(7.5,18.3)(8,17.8)(8.5,22.8)(9,22.8)(9.5,21.5)(10.2,20.4)(10.5,22)(10.7,27)(11.3,27.6)(11.7,26.5)(12.2,26)(12.6,24.8)(12.9,26.5)(13.3,25.8)(13.7,27.2)(14.1,28.7)(14.7,28.7)(15.1,28.2)(15.5,31.5)(15.8,35.2)(16.5,35.2)(17.7,33.5)(18.5,31.5)(18.9,33.5)(19.6,31.5)(20,30.9)(20.4,29.5)(21.2,33.7)(22,33.2)(22.3,34)(23,32)(23.2,33)(23.54,32.5)};
% L2 cyan B
\addplot[gpcyan] coordinates {(0,0)(0.5,-1.2)(1,-2)(1.2,1)(2,0)(2.5,-1)(3,-2)(3.2,2.5)(4,1.5)(4.5,0.8)(5,3.5)(5.5,2.8)(6,2)(6.4,5)(7,4)(7.5,3)(7.8,7)(8.4,6)(9,5)(9.3,11)(9.8,10)(10.1,9.5)(10.2,15)(10.4,24.8)(10.8,24)(11.2,22)(11.6,24.5)(12,25.5)(12.4,27.6)(12.9,27.5)(13.3,26)(13.7,28)(14.2,28.2)(14.6,28)(14.9,33)(15.1,34.6)(15.3,33)(15.5,35.9)(16,35.6)(16.5,34.2)(17,33)(17.5,32)(18,31)(18.5,30)(19,28.7)(19.5,28.5)(20,28)(20.5,28.3)(21,27.8)(21.5,28)(22,27.3)(22.5,27)(22.9,28)(23.2,28.3)(23.54,28.8)};
% L1 magenta top
\addplot[gpmag] coordinates {(0,0)(0.5,-0.8)(1,-1.5)(1.3,1.5)(2,0.5)(2.5,-0.3)(2.8,3)(3.5,2)(4,1.2)(4.3,5.5)(5,4.5)(5.5,3.8)(6,3)(6.3,9)(6.8,8)(7,12)(7.2,17)(7.6,16.5)(7.9,21.5)(8.3,21)(8.8,20)(9.3,19.2)(9.8,18)(10.3,17)(10.6,18.5)(11.2,17.8)(11.7,17.5)(12.1,18.2)(12.6,17.7)(13.2,18.5)(13.7,17.5)(14.2,18)(14.5,17.6)(14.8,22.8)(15.2,26)(15.5,31.5)(16,30)(16.5,29.2)(17,29.5)(17.5,28.6)(18,28.5)(18.5,27.8)(19,27.4)(19.5,27.6)(19.9,27.3)(20.1,31)(20.3,33.5)(20.4,33)(20.5,39.8)(21,39.6)(21.5,38.5)(22,37.3)(22.4,36)(22.7,35.2)(23.05,36)(23.2,42.8)(23.54,42.2)};
\end{axis}
\end{tikzpicture}
\end{document}
